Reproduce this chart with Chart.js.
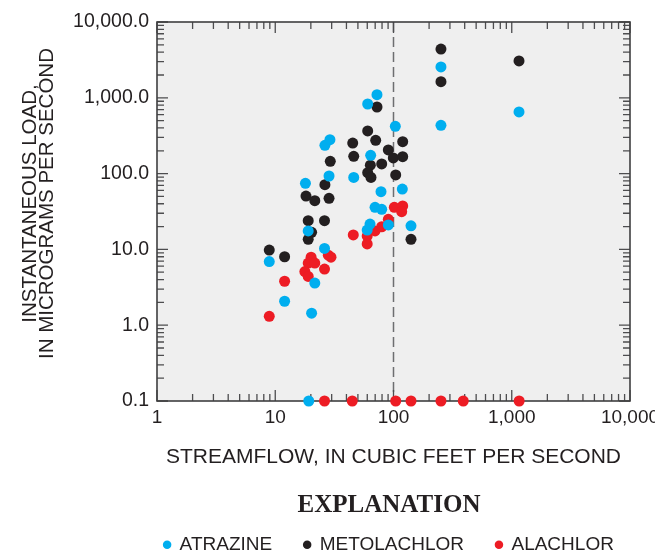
<!DOCTYPE html>
<html><head><meta charset="utf-8">
<script src="https://cdn.jsdelivr.net/npm/chart.js@4/dist/chart.umd.min.js"></script>
<style>html,body{margin:0;padding:0;background:#fff;overflow:hidden;width:655px;height:553px}canvas{display:block}</style>
</head><body>
<canvas id="c" width="655" height="570"></canvas>
<script>
// ---- data ----
const seriesNames = ['ATRAZINE', 'METOLACHLOR', 'ALACHLOR'];

const atrazineFlow = [8.9, 12.0, 20.3, 21.6, 19.0, 19.2, 18.0, 26.1, 26.3, 29.0, 28.5, 46.1, 64.1, 60.5, 72.5, 103.6, 78.4, 118.7, 69.8, 79.5, 90.4, 140.6, 63.3, 59.9, 252, 252, 1152];
const atrazineLoad = [6.9, 2.07, 1.44, 3.6, 17.5, 0.1, 74.5, 10.3, 236, 280, 93, 89, 174, 828, 1100, 421, 57.7, 62.6, 35.9, 33.8, 21.0, 20.5, 21.6, 18.0, 2550, 434, 650];

const metolachlorFlow = [8.9, 12.0, 19.0, 20.3, 19.0, 26.1, 18.2, 21.6, 28.5, 26.3, 29.2, 45.2, 46.1, 60.5, 70.7, 72.5, 63.7, 79.5, 60.5, 64.5, 90.4, 99.6, 119.6, 119.6, 104.4, 140.6, 252, 252, 1152];
const metolachlorLoad = [9.8, 8.0, 23.9, 16.8, 13.6, 23.9, 50.6, 43.9, 47.2, 71.4, 145, 253, 169, 365, 275, 756, 129, 134, 103, 89, 205, 161, 264, 167, 96, 13.6, 4400, 1630, 3060];

const alachlorFlow = [8.9, 12.0, 20.1, 19.0, 21.6, 17.8, 19.0, 26.1, 28.1, 29.6, 45.7, 59.9, 59.9, 69.8, 79.5, 90.4, 101.6, 119.6, 117.3, 26.1, 44.8, 104.4, 140.6, 252, 389, 1155];
const alachlorLoad = [1.31, 3.8, 7.9, 6.6, 6.6, 5.1, 4.4, 5.5, 8.4, 7.9, 15.5, 15.0, 11.8, 17.5, 19.9, 24.9, 35.9, 37.4, 31.4, 0.1, 0.1, 0.1, 0.1, 0.1, 0.1, 0.1];

const xTickValues = [1, 10, 100, 1000, 10000];
const xTickLabels = ['1', '10', '100', '1,000', '10,000'];
const yTickValues = [0.1, 1, 10, 100, 1000, 10000];
const yTickLabels = ['0.1', '1.0', '10.0', '100.0', '1,000.0', '10,000.0'];
const referenceFlow = 100;

const xTitle = 'STREAMFLOW, IN CUBIC FEET PER SECOND';
const yTitle = ['INSTANTANEOUS LOAD,', 'IN MICROGRAMS PER SECOND'];
const legendTitle = 'EXPLANATION';

// ---- chart ----
const TEXT = '#231f20';
const SANS = "'Liberation Sans', Arial, sans-serif";
Chart.defaults.font.family = SANS;
Chart.defaults.color = TEXT;

function pts(xs, ys) { return xs.map((x, i) => ({x: x, y: ys[i]})); }

const framePlugin = {
  id: 'frame',
  afterLayout(chart) {
    // centre the explanation block under the plot (around x = 389), as in the reference
    if (chart.legend) { chart.legend.left = 118; chart.legend.right = 660; }
  },
  beforeDraw(chart) {
    const {ctx, chartArea: a} = chart;
    ctx.save();
    ctx.fillStyle = '#efefef';
    ctx.fillRect(a.left, a.top, a.right - a.left, a.bottom - a.top);
    ctx.restore();
  },
  beforeDatasetsDraw(chart) {
    const {ctx, chartArea: a, scales} = chart;
    const xs = scales.x, ys = scales.y;
    ctx.save();
    // dashed reference line
    const px = xs.getPixelForValue(referenceFlow);
    ctx.strokeStyle = '#6d6e70';
    ctx.lineWidth = 1.5;
    ctx.setLineDash([10, 5]);
    ctx.beginPath(); ctx.moveTo(px, a.top); ctx.lineTo(px, a.bottom); ctx.stroke();
    ctx.setLineDash([]);
    // inward ticks on all four sides
    ctx.strokeStyle = '#4d4d4f';
    ctx.lineWidth = 1.3;
    ctx.beginPath();
    for (let d = 0; d <= 4; d++) {
      for (let k = 1; k <= 9; k++) {
        if (d === 4 && k > 1) break;
        const p = xs.getPixelForValue(k * Math.pow(10, d));
        const L = k === 1 ? 11 : 7;
        ctx.moveTo(p, a.bottom); ctx.lineTo(p, a.bottom - L);
        ctx.moveTo(p, a.top); ctx.lineTo(p, a.top + L);
      }
    }
    for (let d = -1; d <= 4; d++) {
      for (let k = 1; k <= 9; k++) {
        if (d === 4 && k > 1) break;
        const p = ys.getPixelForValue(k * Math.pow(10, d));
        const L = k === 1 ? 11 : 7;
        ctx.moveTo(a.left, p); ctx.lineTo(a.left + L, p);
        ctx.moveTo(a.right, p); ctx.lineTo(a.right - L, p);
      }
    }
    ctx.stroke();
    ctx.strokeStyle = '#3f3f40';
    ctx.lineWidth = 1.6;
    ctx.strokeRect(a.left, a.top, a.right - a.left, a.bottom - a.top);
    ctx.restore();
  }
};

const common = {pointRadius: 5.5, pointHoverRadius: 5.5, borderWidth: 0, clip: false, pointStyle: 'circle'};

new Chart(document.getElementById('c'), {
  type: 'scatter',
  data: {
    datasets: [
      Object.assign({label: seriesNames[0], data: pts(atrazineFlow, atrazineLoad), backgroundColor: '#00aeef', borderColor: '#00aeef', order: 0}, common),
      Object.assign({label: seriesNames[1], data: pts(metolachlorFlow, metolachlorLoad), backgroundColor: '#231f20', borderColor: '#231f20', order: 2}, common),
      Object.assign({label: seriesNames[2], data: pts(alachlorFlow, alachlorLoad), backgroundColor: '#ed1c24', borderColor: '#ed1c24', order: 1}, common)
    ]
  },
  options: {
    responsive: false,
    devicePixelRatio: 1,
    animation: false,
    events: [],
    layout: {padding: {left: 10, right: 25, top: 22, bottom: 5.8}},
    scales: {
      x: {
        type: 'logarithmic', min: 1, max: 10000, position: 'bottom',
        grid: {display: false, drawTicks: false}, border: {display: false},
        ticks: {padding: 5, color: TEXT, font: {size: 19}, maxRotation: 0, autoSkip: false,
          callback: (v, i) => xTickLabels[i]},
        afterBuildTicks: s => { s.ticks = xTickValues.map(v => ({value: v})); },
        afterFit: s => { s.height = 70; s.paddingLeft = 0; s.paddingRight = 0; },
        title: {display: true, text: xTitle, color: TEXT, font: {size: 21, lineHeight: 1.2}, padding: {top: 0, bottom: 1}}
      },
      y: {
        type: 'logarithmic', min: 0.1, max: 10000, position: 'left',
        grid: {display: false, drawTicks: false}, border: {display: false},
        ticks: {padding: 8, color: TEXT, font: {size: 19.5}, autoSkip: false,
          callback: (v, i) => yTickLabels[i]},
        afterBuildTicks: s => { s.ticks = yTickValues.map(v => ({value: v})); },
        afterFit: s => {
          s.width = 147; s.paddingTop = 0; s.paddingBottom = 0;
          if (!s._titleShifted) {
            // the reference's axis title sits a little above the plot's mid-height
            const base = Object.getPrototypeOf(s).drawTitle;
            s.drawTitle = function () { this.ctx.save(); this.ctx.translate(0, -8); base.call(this); this.ctx.restore(); };
            s._titleShifted = true;
          }
        },
        title: {display: true, text: yTitle, color: TEXT, font: {size: 20.5, lineHeight: 0.8}, padding: {top: 12.5, bottom: 0}}
      }
    },
    plugins: {
      tooltip: {enabled: false},
      legend: {
        position: 'bottom', align: 'center',
        title: {display: true, text: legendTitle, color: TEXT,
          font: {family: "'Liberation Serif', 'Times New Roman', serif", size: 25, weight: 'bold', lineHeight: 1.2},
          padding: {top: 22, bottom: -19.8}},
        labels: {usePointStyle: true, pointStyle: 'circle', boxWidth: 6, boxHeight: 6, padding: 32,
          color: TEXT, font: {size: 19},
          sort: (a, b) => a.datasetIndex - b.datasetIndex}
      }
    }
  },
  plugins: [framePlugin]
});
</script>
</body></html>
